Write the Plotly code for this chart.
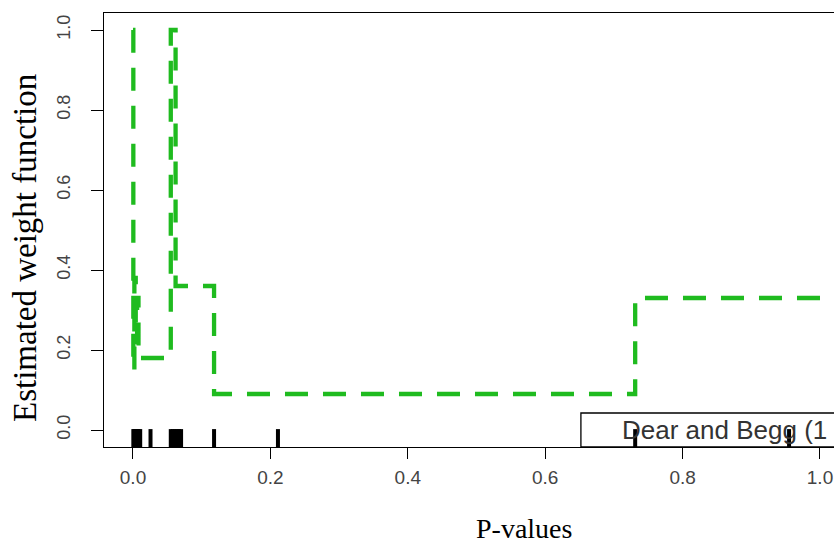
import plotly.graph_objects as go

# Estimated weight function (step function)
step_p = [0.0, 0.0005, 0.002, 0.004, 0.006, 0.008, 0.0105, 0.055, 0.062, 0.118, 0.731, 1.03]
step_w = [1.0, 0.15, 0.38, 0.22, 0.33, 0.20, 0.18, 1.0, 0.36, 0.09, 0.33, 0.33]

# Observed p-values (rug)
rug_p = [0.0005, 0.002, 0.004, 0.006, 0.008, 0.0105, 0.0255,
         0.055, 0.058, 0.061, 0.064, 0.067, 0.070,
         0.118, 0.211, 0.731, 0.955]

x_ticks = [0.0, 0.2, 0.4, 0.6, 0.8, 1.0]
x_ticktext = ["0.0", "0.2", "0.4", "0.6", "0.8", "1.0"]
y_ticks = [0.0, 0.2, 0.4, 0.6, 0.8, 1.0]
y_ticktext = ["0.0", "0.2", "0.4", "0.6", "0.8", "1.0"]

legend_text = "Dear and Begg (1"
x_title = "P-values"
y_title = "Estimated weight function"

W, H = 834, 547
L, R, T, B = 104, 0, 13, 100
XR = [-0.0422, 1.0204]
YR = [-0.0425, 1.0425]
RUG_Y = -0.024
LEG_X0, LEG_X1, LEG_Y1 = 0.652, 1.2, 0.0425

fig = go.Figure()

fig.add_trace(go.Scatter(
    x=step_p, y=step_w, mode="lines", line_shape="hv",
    line=dict(color="#1fbb1f", width=4.3, dash="23px,15px"),
    hoverinfo="skip", showlegend=False,
))

fig.add_trace(go.Scatter(
    x=rug_p, y=[RUG_Y] * len(rug_p), mode="markers",
    marker=dict(symbol="line-ns", size=15, line=dict(color="black", width=4)),
    hoverinfo="skip", showlegend=False,
))

# legend box (cropped at the right edge: no right side drawn)
fig.add_shape(type="path", xref="x", yref="y",
              path=f"M {LEG_X1},{YR[0]} L {LEG_X0},{YR[0]} L {LEG_X0},{LEG_Y1} L {LEG_X1},{LEG_Y1}",
              line=dict(color="black", width=1.3), fillcolor="white", layer="below")

fig.add_annotation(x=0.709, y=0.0, xref="x", yref="y", text=legend_text,
                   showarrow=False, xanchor="left", yanchor="middle",
                   font=dict(family="Liberation Sans, Arial", size=26, color="#333333"))

plot_w = W - L - R
plot_h = H - T - B
fig.add_annotation(x=(524 - L) / plot_w, y=(447 - 528) / plot_h, xref="paper", yref="paper",
                   text=x_title, showarrow=False, xanchor="center", yanchor="middle",
                   font=dict(family="Liberation Serif, Times New Roman", size=28, color="black"))
fig.add_annotation(x=(25 - L) / plot_w, y=(447 - 248) / plot_h, xref="paper", yref="paper",
                   text=y_title, showarrow=False, xanchor="center", yanchor="middle",
                   textangle=-90,
                   font=dict(family="Liberation Serif, Times New Roman", size=33, color="black"))

fig.update_layout(
    width=W, height=H,
    margin=dict(l=L, r=R, t=T, b=B),
    paper_bgcolor="white", plot_bgcolor="white",
    xaxis=dict(range=XR, showgrid=False, zeroline=False,
               showline=True, linecolor="black", linewidth=1.3, mirror=True,
               ticks="outside", ticklen=11, tickcolor="black", tickwidth=1.3,
               tickvals=x_ticks, ticktext=x_ticktext, ticklabelstandoff=2,
               tickfont=dict(family="Liberation Sans, Arial", size=19, color="#444444")),
    yaxis=dict(range=YR, showgrid=False, zeroline=False,
               showline=True, linecolor="black", linewidth=1.3, mirror=False,
               ticks="outside", ticklen=12, tickcolor="black", tickwidth=1.3,
               tickvals=y_ticks, ticktext=y_ticktext, tickangle=-90, ticklabelstandoff=14,
               tickfont=dict(family="Liberation Sans, Arial", size=18, color="#444444")),
)

fig.write_html("out.html")
